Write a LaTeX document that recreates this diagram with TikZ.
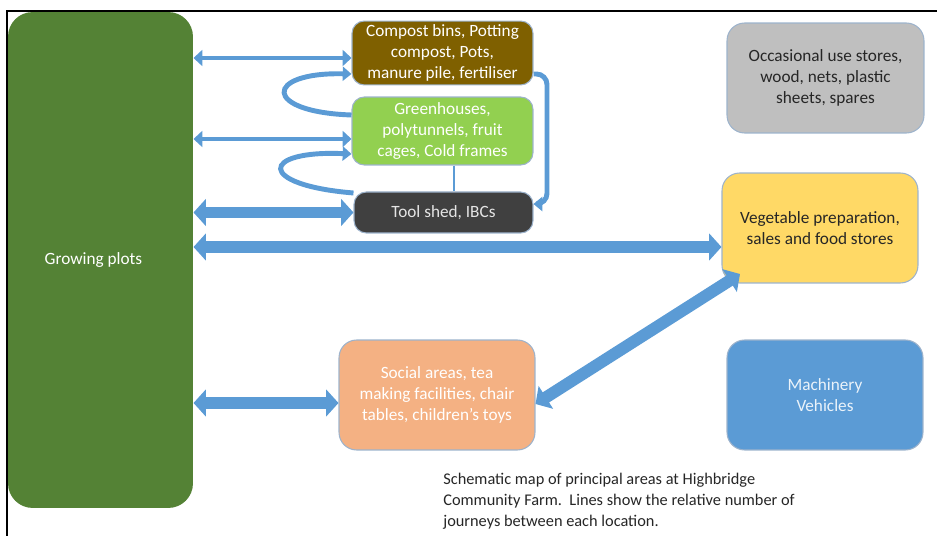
\documentclass[tikz,border=0pt]{standalone}
\usepackage{fontspec}
\setmainfont{Carlito}
\usetikzlibrary{arrows.meta,positioning}
\definecolor{tripblue}{HTML}{5B9BD5}
\definecolor{plotgreen}{HTML}{548235}
\definecolor{compostbrown}{HTML}{7F6000}
\definecolor{glassgreen}{HTML}{92D050}
\definecolor{shedgrey}{HTML}{404040}
\definecolor{storegrey}{HTML}{BFBFBF}
\definecolor{vegyellow}{HTML}{FFD966}
\definecolor{socialorange}{HTML}{F4B183}
\definecolor{areaedge}{HTML}{9DB3CC}
\definecolor{darktext}{HTML}{262626}
\tikzset{
  area/.style={rounded corners=7pt, draw=areaedge, line width=0.6pt, align=center, inner sep=2pt, font=\fontsize{9.8}{12}\selectfont},
  route/.style={draw=tripblue, line width=2.8pt, {Triangle[width=9pt,length=5pt]}-{Triangle[width=9pt,length=5pt]}},
  busyroute/.style={draw=tripblue, line width=6.8pt, {Triangle[width=15pt,length=7pt]}-{Triangle[width=15pt,length=7pt]}},
  backtrip/.style={draw=tripblue, line width=2.8pt, -{Triangle[width=8pt,length=5pt]}},
}

\begin{document}
\begin{tikzpicture}[x=0.02cm,y=-0.02cm,font=\fontsize{9.3}{12}\selectfont]
    \useasboundingbox (0,0) rectangle (937,536);
    \draw[line width=1.2pt] (7,536) -- (7,11) -- (937,11);
    % areas
    \node[area,fill=plotgreen,draw=none,rounded corners=14pt,minimum width=3.7cm,minimum height=9.92cm,text=white] (growing) at (100.5,260) {Growing plots\hspace*{8pt}};
    \node[area,fill=compostbrown,minimum width=3.62cm,minimum height=1.24cm,text=white] (compost) at (442.5,53) {Compost bins, Potting\\compost, Pots,\\manure pile, fertiliser};
    \node[area,fill=glassgreen,minimum width=3.62cm,minimum height=1.36cm,text=white] (greenhouse) at (442.5,131) {Greenhouses,\\polytunnels, fruit\\cages, Cold frames};
    \node[area,fill=shedgrey,minimum width=3.58cm,minimum height=0.82cm,text=white!90!black] (toolshed) at (443.5,212.5) {Tool shed, IBCs};
    \node[area,fill=storegrey,rounded corners=10pt,minimum width=3.94cm,minimum height=2.2cm,text=darktext] (stores) at (825.5,78) {Occasional use stores,\\wood, nets, plastic\\sheets, spares};
    \node[area,fill=vegyellow,rounded corners=10pt,minimum width=3.92cm,minimum height=2.2cm,text=darktext] (veg) at (820,228) {Vegetable preparation,\\sales and food stores};
    \node[area,fill=socialorange,rounded corners=10pt,minimum width=3.92cm,minimum height=2.2cm,text=white] (social) at (437,395) {Social areas, tea\\making facilities, chair\\tables, children’s toys};
    \node[area,fill=tripblue,rounded corners=10pt,minimum width=3.92cm,minimum height=2.2cm,text=white!88!tripblue] (machinery) at (825,395) {Machinery\\Vehicles};
    \node[anchor=north west,align=left,inner sep=0pt,text=darktext] (caption) at (443,473) {Schematic map of principal areas at Highbridge\\Community Farm.\ \ Lines show the relative number of\\journeys between each location.};
    % journeys
    \draw[route] (growing.east |- 0,58) -- (compost.west |- 0,58);
    \draw[route] (growing.east |- 0,139) -- (greenhouse.west |- 0,139);
    \draw[busyroute] (growing.east |- toolshed.west) -- (toolshed.west);
    \draw[busyroute] (growing.east |- 0,247) -- (veg.west |- 0,247);
    \draw[busyroute] (growing.east |- 0,403) -- (social.west |- 0,403);
    \draw[busyroute] (social.east |- 0,404) -- (740,274);
    \draw[backtrip] (greenhouse.west |- 0,115) .. controls (262,112) and (264,72) .. (compost.west |- 0,74);
    \draw[backtrip] (toolshed.west |- 0,193) .. controls (256,185) and (260,150) .. (greenhouse.west |- 0,154);
    \draw[backtrip,rounded corners=6pt] (compost.east |- 0,74) -- (547,74) -- (547,204) -- (toolshed.east |- 0,204);
    \draw[draw=tripblue,line width=1.3pt] (greenhouse.south -| 454,0) -- (toolshed.north -| 454,0);
\end{tikzpicture}
\end{document}
